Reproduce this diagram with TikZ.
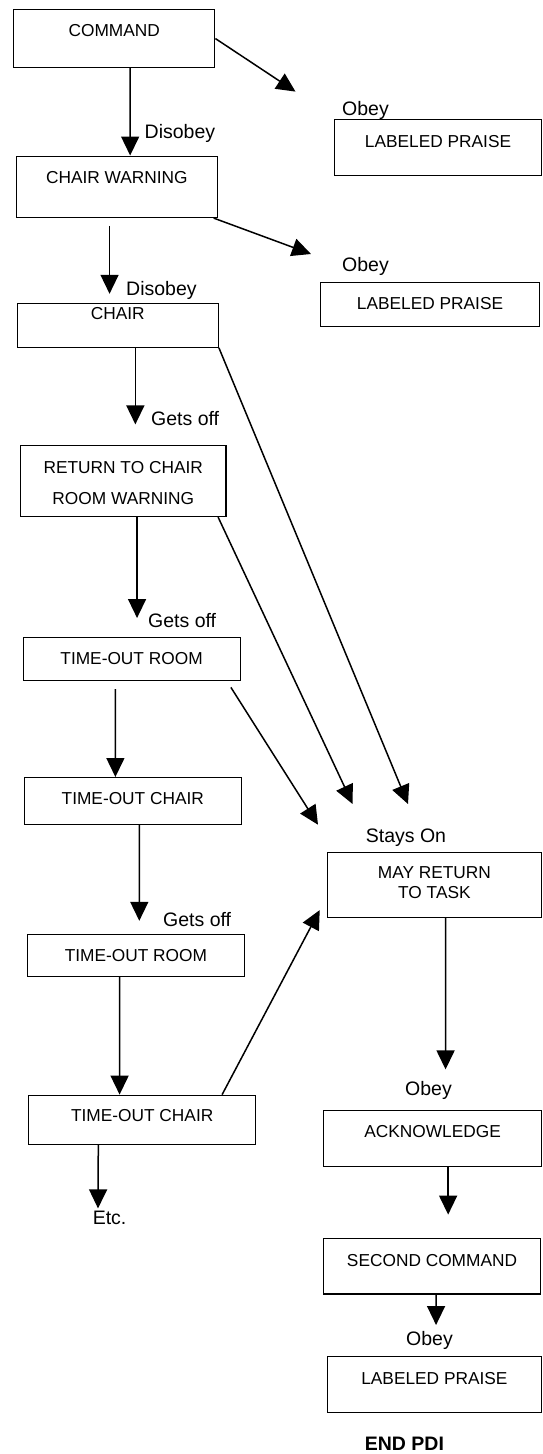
\documentclass[tikz,border=0pt]{standalone}
\usepackage{fontspec}
\setmainfont{Liberation Sans}
\usepackage{tikz}
\usetikzlibrary{positioning,arrows.meta}
\newcommand\boxtxt{\fontsize{17.3}{20}\selectfont}
\newcommand\lbltxt{\fontsize{19.5}{22}\selectfont}
\tikzset{
  blk/.style={draw, line width=1.1pt, inner sep=0pt, anchor=north west, font=\boxtxt, align=center},
  lbl/.style={inner sep=0pt, anchor=base west, font=\lbltxt},
  arr/.style={line width=1.5pt, -{Triangle[length=19pt,width=18pt]}}
}
\begin{document}
\begin{tikzpicture}[x=1pt,y=-1pt]
\useasboundingbox (0,0) rectangle (542,1454);
% left column
\node[blk, minimum width=201.2, text height=27, text depth=30.4] (cmd) at (13.1,9.3) {COMMAND};
\node[blk, minimum width=201.4, text height=27, text depth=34.5] (cw) at (15.6,155.5) {CHAIR WARNING};
\node[blk, minimum width=201.2, text height=16.5, text depth=27.7] (chair) at (16.6,302.5) {CHAIR};
\node[blk, minimum width=205.4, text height=59, text depth=12] (ret) at (20,445) {RETURN TO CHAIR\\[11pt]ROOM WARNING};
\node[blk, minimum width=217, text height=27, text depth=15.5] (tor1) at (22.5,637) {TIME-OUT ROOM};
\node[blk, minimum width=217.5, text height=27, text depth=20] (toc1) at (23.5,777) {TIME-OUT CHAIR};
\node[blk, minimum width=216.7, text height=27, text depth=15.5] (tor2) at (27,933.5) {TIME-OUT ROOM};
\node[blk, minimum width=226.7, text height=26.4, text depth=22.7] (toc2) at (28.3,1094.6) {TIME-OUT CHAIR};
% right column
\node[blk, minimum width=207, text height=28, text depth=27.6] (lp1) at (334,119) {LABELED PRAISE};
\node[blk, minimum width=219, text height=27.7, text depth=16.6] (lp2) at (320,281.7) {LABELED PRAISE};
\node[blk, minimum width=214.3, text height=46.4, text depth=19] (may) at (326.7,851.6) {MAY RETURN\\TO TASK};
\node[blk, minimum width=218, text height=27, text depth=28.7] (ack) at (323,1109.8) {ACKNOWLEDGE};
\node[blk, minimum width=217, text height=28.4, text depth=27] (sc) at (323,1238) {SECOND COMMAND};
\node[blk, minimum width=214.3, text height=28, text depth=27.6] (lp3) at (326.7,1356) {LABELED PRAISE};
% labels
\foreach \t/\x/\y [count=\i] in {Obey/342/115, Disobey/144.5/138, Obey/342/271,
  Disobey/126/295.5, Gets off/151/425, Gets off/148/627, Stays On/365.7/842,
  Gets off/163/926, Obey/405/1095, Obey/406/1345}{
\node[lbl] (l\i) at (\x,\y) {\t};
}
\node[lbl] (etc) at (92.6,1224) {Etc.};
\node[lbl, font=\lbltxt\bfseries] (end) at (364.7,1450) {END PDI};
% free ends
\coordinate (t1) at (295.5,91.6);
\coordinate (t3) at (311,254);
\coordinate (t5) at (408,804);
\coordinate (t7) at (352.6,804);
\coordinate (t9) at (318,824.7);
% connectors
\draw[arr] (cmd.east) -- (t1);
\draw[arr] ([xshift=15.9pt]cmd.south) -- ([xshift=13.3pt]cw.north);
\draw[arr] ([xshift=-4.4pt]cw.south east) -- (t3);
\draw[arr, shorten <=7.7pt, shorten >=8.7pt] ([xshift=-7.3pt]cw.south) -- ([xshift=-8.2pt]chair.north);
\draw[arr] (chair.south east) -- (t5);
\draw[arr, shorten >=20.6pt] ([xshift=17.6pt]chair.south) -- ([xshift=12.1pt]ret.north);
\draw[arr] ([xshift=-8.4pt]ret.south east) -- (t7);
\draw[arr, shorten >=19pt] ([xshift=13.8pt]ret.south) -- ([xshift=5.5pt]tor1.north);
\draw[arr, shorten <=8pt] ([xshift=-14pt]tor1.south east) -- (t9);
\draw[arr, shorten <=8.5pt] ([xshift=-16.2pt]tor1.south) -- ([xshift=-17.4pt]toc1.north);
\draw[arr, shorten >=12.7pt] ([xshift=6.5pt]toc1.south) -- ([xshift=3.4pt]tor2.north);
\draw[arr] ([xshift=-16.4pt]tor2.south) -- ([xshift=-22.6pt]toc2.north);
\draw[arr] ([xshift=-34pt]toc2.north east) -- ([shift={(-7,-8)}]may.south west);
\draw[arr, shorten >=2pt] ([xshift=-43.9pt]toc2.south) -- ([xshift=-11.6pt]etc.north);
\draw[arr, shorten >=40.4pt] ([xshift=11.2pt]may.south) -- ([xshift=13pt]ack.north);
\draw[arr, shorten >=23.4pt] ([xshift=15.6pt]ack.south) -- ([xshift=16.1pt]sc.north);
\draw[arr, shorten >=31pt] ([xshift=4pt]sc.south) -- ([xshift=1.65pt]lp3.north);
\end{tikzpicture}
\end{document}
